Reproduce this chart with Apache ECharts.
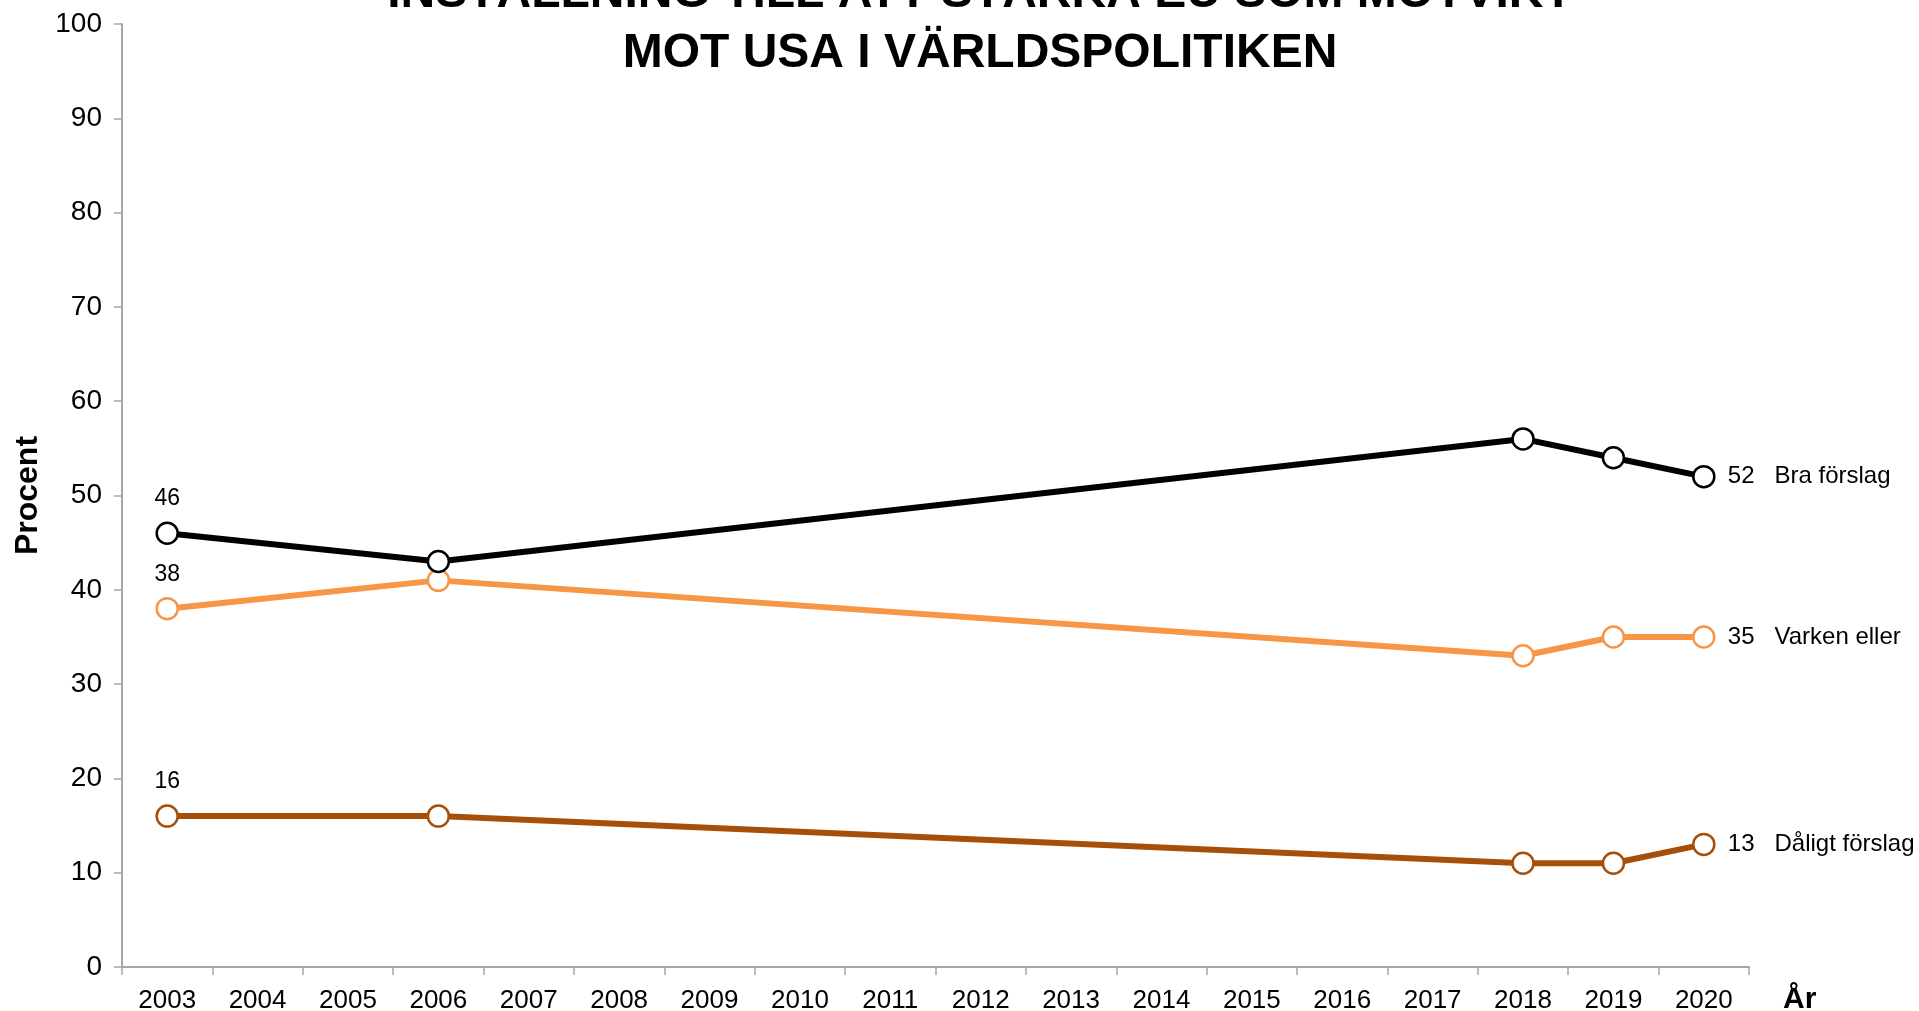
<!DOCTYPE html>
<html>
<head>
<meta charset="utf-8">
<title>Inställning till att stärka EU som motvikt mot USA</title>
<script src="https://cdn.jsdelivr.net/npm/echarts@6/dist/echarts.min.js"></script>
<style>
  html, body { margin: 0; padding: 0; background: #fff; }
  #chart { width: 1919px; height: 1011px; }
</style>
</head>
<body>
<div id="chart"></div>
<script>
const years = ['2003', '2004', '2005', '2006', '2007', '2008', '2009', '2010', '2011',
  '2012', '2013', '2014', '2015', '2016', '2017', '2018', '2019', '2020'];

// null = no survey that year
const braForslag = [46, null, null, 43, null, null, null, null, null, null, null, null, null, null, null, 56, 54, 52];
const varkenEller = [38, null, null, 41, null, null, null, null, null, null, null, null, null, null, null, 33, 35, 35];
const daligtForslag = [16, null, null, 16, null, null, null, null, null, null, null, null, null, null, null, 11, 11, 13];

const yTicks = { min: 0, max: 100, interval: 10 };

const FONT = '"Liberation Sans", Arial, sans-serif';

function makeSeries(name, data, color) {
  return {
    name: name,
    type: 'line',
    data: data,
    connectNulls: true,
    symbol: 'circle',
    symbolSize: 21,
    itemStyle: { color: '#fff', borderColor: color, borderWidth: 2.5 },
    lineStyle: { color: color, width: 6 },
    label: {
      show: true,
      position: 'top',
      distance: 11,
      color: '#000',
      fontFamily: FONT,
      fontSize: 23,
      formatter: p => (p.dataIndex === 0 ? p.value : '')
    },
    endLabel: {
      show: true,
      distance: 24,
      color: '#000',
      fontFamily: FONT,
      formatter: p => `{v|${p.value}}{n|${p.seriesName}}`,
      rich: {
        v: { fontSize: 24, fontFamily: FONT, color: '#000' },
        n: { fontSize: 24, fontFamily: FONT, color: '#000', padding: [0, 0, 0, 20] }
      }
    },
    emphasis: { disabled: true }
  };
}

const chart = echarts.init(document.getElementById('chart'));
chart.setOption({
  animation: false,
  backgroundColor: '#fff',
  title: {
    text: 'INSTÄLLNING TILL ATT STÄRKA EU SOM MOTVIKT\nMOT USA I VÄRLDSPOLITIKEN',
    left: 975,
    top: -41,
    textAlign: 'center',
    textStyle: { fontFamily: FONT, fontSize: 48, fontWeight: 'bold', color: '#000', lineHeight: 60 }
  },
  grid: { left: 122, right: 170, top: 24, bottom: 44, outerBoundsMode: 'none', containLabel: false },
  xAxis: {
    type: 'category',
    data: years,
    boundaryGap: true,
    name: 'År',
    nameLocation: 'end',
    nameGap: 34,
    nameTextStyle: {
      fontFamily: FONT, fontSize: 30, fontWeight: 'bold', color: '#000',
      verticalAlign: 'top', padding: [18, 0, 0, 0]
    },
    axisLine: { lineStyle: { color: '#a6a6a6', width: 2 } },
    axisTick: { show: true, length: 8, lineStyle: { color: '#a6a6a6', width: 1.5 } },
    axisLabel: { fontFamily: FONT, fontSize: 26, color: '#000', margin: 21, interval: 0 },
    splitLine: { show: false }
  },
  yAxis: {
    type: 'value',
    min: yTicks.min,
    max: yTicks.max,
    interval: yTicks.interval,
    name: 'Procent',
    nameLocation: 'middle',
    nameGap: 78,
    nameTextStyle: { fontFamily: FONT, fontSize: 32, fontWeight: 'bold', color: '#000' },
    axisLine: { show: true, lineStyle: { color: '#a6a6a6', width: 2 } },
    axisTick: { show: true, length: 8, lineStyle: { color: '#a6a6a6', width: 1.5 } },
    axisLabel: { fontFamily: FONT, fontSize: 28, color: '#000', margin: 20 },
    splitLine: { show: false }
  },
  series: [
    makeSeries('Dåligt förslag', daligtForslag, '#a64f0a'),
    makeSeries('Varken eller', varkenEller, '#f79646'),
    makeSeries('Bra förslag', braForslag, '#000000')
  ]
});

window.addEventListener('resize', () => chart.resize());
</script>
</body>
</html>
